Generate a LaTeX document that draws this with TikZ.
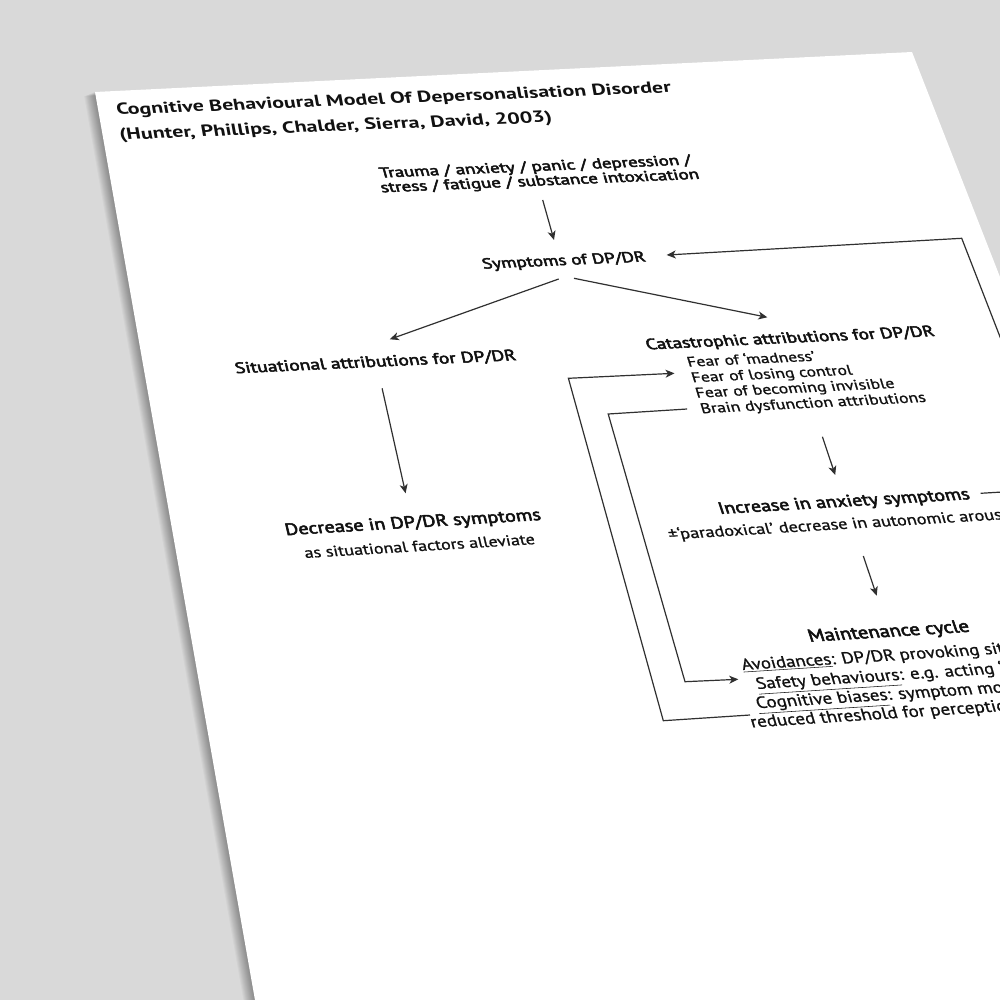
\documentclass[tikz,border=0pt]{standalone}
\usepackage{fontspec}
\setmainfont{PT Sans}
\newfontfamily\semib{PT Sans}[FakeBold=3]
\newfontfamily\regf{PT Sans}[FakeBold=1]
\usetikzlibrary{arrows.meta}
\definecolor{bggray}{HTML}{D9D9D9}
\definecolor{ink}{HTML}{111111}
\definecolor{linec}{HTML}{303030}
\def\vf{0.82}
% perspective text: name, X, Y (image px), anchor, text
\newcommand\ptxt[5]{%
 \pgfmathsetmacro\pden{-0.0070901*#2+0.160842*#3+604.293}%
 \pgfmathsetmacro\pss{(0.735625*#2-0.129625*#3-57.9589)/\pden}%
 \pgfmathsetmacro\ptt{(0.0408065*#2+0.833478*#3-80.5565)/\pden}%
 \pgfmathsetmacro\pD{595*(1+0.020169*\pss-0.18984*\ptt)}%
 \pgfmathsetmacro\ma{(835.394-0.020169*#2)/\pD}%
 \pgfmathsetmacro\pdl{0.009*min(1,max(0,(520-#3)/150))}%
 \pgfmathsetmacro\mb{(38.951+0.020169*#3)/\pD-\pdl*\ma}%
 \pgfmathsetmacro\mc{-\vf*(111.59+0.18984*#2)/\pD}%
 \pgfmathsetmacro\md{\vf*(718.16+0.18984*#3)/\pD}%
 \node[txt,cm={\ma,\mb,\mc,\md,(#2,#3)},anchor=#4] (#1) {#5};%
}
\tikzset{
 txt/.style={transform shape,inner sep=0pt,text=ink},
 conn/.style={draw=linec,line width=1.2pt},
 arr/.style={conn,-{Stealth[length=9pt,width=8pt,inset=2.5pt]}},
}
\newcommand\hb{\fontsize{13.1}{15}\semib}
\newcommand\rg{\fontsize{11.9}{14}\regf}
\begin{document}
\begin{tikzpicture}[x=1pt,y=-1pt]
\useasboundingbox (0,0) rectangle (1000,1000);
\clip (0,0) rectangle (1000,1000);
\fill[bggray] (0,0) rectangle (1000,1000);
% shadow of the sheet
\foreach \k in {1,...,12}{
  \fill[black,opacity=0.03,shift={(-0.9*\k,0.35*\k)}]
    (95,92) -- (912,52) -- (1390.6,1275.8) -- (318.7,1361.7) -- cycle;
}
% sheet
\fill[white] (95,92) -- (912,52) -- (1390.6,1275.8) -- (318.7,1361.7) -- cycle;

% texts
\ptxt{title1}{117}{115}{base west}{\fontsize{15.5}{18}\selectfont\bfseries Cognitive Behavioural Model Of Depersonalisation Disorder}
\ptxt{title2}{120}{140}{base west}{\fontsize{15.5}{18}\selectfont\bfseries (Hunter, Phillips, Chalder, Sierra, David, 2003)}
\ptxt{trauma1}{536.4}{171}{base}{\fontsize{13.4}{15}\semib Trauma / anxiety / panic / depression /}
\ptxt{trauma2}{541}{185.5}{base}{\fontsize{13.4}{15}\semib stress / fatigue / substance intoxication}
\ptxt{symp}{565}{265}{base}{\hb Symptoms of DP/DR}
\ptxt{situ}{376.5}{366.7}{base}{\hb Situational attributions for DP/DR}
\ptxt{cata}{791.5}{342.7}{base}{\hb Catastrophic attributions for DP/DR}
\ptxt{fear1}{688.3}{366.7}{base west}{\rg Fear of ‘madness’}
\ptxt{fear2}{692.7}{382.3}{base west}{\rg Fear of losing control}
\ptxt{fear3}{696.7}{397.7}{base west}{\rg Fear of becoming invisible}
\ptxt{brain}{701.7}{413.3}{base west}{\rg Brain dysfunction attributions}
\ptxt{decr}{414}{527.5}{base}{\hb Decrease in DP/DR symptoms}
\ptxt{decr2}{420.6}{551}{base}{\fontsize{11.6}{14}\regf as situational factors alleviate}
\ptxt{incr}{845.5}{506.5}{base}{\hb Increase in anxiety symptoms}
\ptxt{parad}{669.5}{539.5}{base west}{\rg ±‘paradoxical’ decrease in autonomic arousal}
\ptxt{maint}{890.3}{636.7}{base}{\hb Maintenance cycle}
\ptxt{avoid}{742.7}{670}{base west}{\rg \underline{Avoidances}: DP/DR provoking situations}
\ptxt{safe}{757.3}{689}{base west}{\rg \underline{Safety behaviours}: e.g. acting ‘normal’}
\ptxt{cogn}{757.3}{708.3}{base west}{\rg \underline{Cognitive biases}: symptom monitoring,}
\ptxt{redu}{751.7}{727.5}{base west}{\rg reduced threshold for perception of symptoms}

% connector end points
\coordinate (t1) at (542.7,200);   \coordinate (s1) at (554,240);
\coordinate (s2) at (558.7,279);   \coordinate (si) at (389.8,339.3);
\coordinate (s3) at (574,278.3);   \coordinate (ca) at (767.3,317.3);
\coordinate (si2) at (382.1,388.3); \coordinate (de) at (405.6,493.3);
\coordinate (li) at (822.4,436.7);  \coordinate (in) at (835.2,475);
\coordinate (in2) at (863.3,556);   \coordinate (ma) at (876.7,595.7);
\coordinate (ob) at (750,715); \coordinate (oc1) at (663.3,720.7);
\coordinate (oc2) at (568.4,378.3); \coordinate (ot) at (674.5,373.3);
\coordinate (ib) at (687.2,409); \coordinate (ic1) at (608.2,414);
\coordinate (ic2) at (685,681.7); \coordinate (it) at (738.3,679.3);
\coordinate (rb) at (980.6,493.3); \coordinate (rc1) at (1059,488.6);
\coordinate (rc2) at (961.7,238.3); \coordinate (rt) at (666.7,255);

\draw[arr] (t1) -- (s1);
\draw[arr] (s2) -- (si);
\draw[arr] (s3) -- (ca);
\draw[arr] (si2) -- (de);
\draw[arr] (li) -- (in);
\draw[arr] (in2) -- (ma);
\draw[arr] (ob) -- (oc1) -- (oc2) -- (ot);
\draw[arr] (ib) -- (ic1) -- (ic2) -- (it);
\draw[arr] (rb) -- (rc1) -- (rc2) -- (rt);
\end{tikzpicture}
\end{document}
